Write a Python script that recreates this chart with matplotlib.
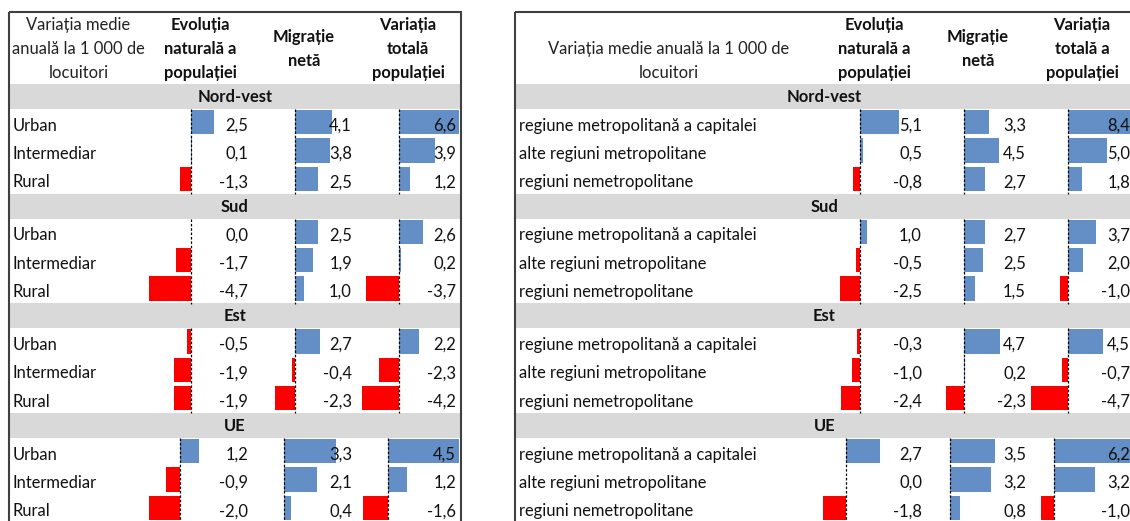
import numpy as np
import matplotlib.pyplot as plt
from matplotlib.patches import Rectangle

plt.rcParams['font.family'] = ['Lato', 'DejaVu Sans']

groups = ['Nord-vest', 'Sud', 'Est', 'UE']
col_titles = [['Evoluția', 'naturală a', 'populației'],
              ['Migrație', 'netă'],
              ['Variația', 'totală', 'populației']]
col_titles_r = [['Evoluția', 'naturală a', 'populației'],
                ['Migrație', 'netă'],
                ['Variația', 'totală a', 'populației']]

# left table: urban / intermediar / rural
rows_l = ['Urban', 'Intermediar', 'Rural']
nat_l = [[2.5, 0.1, -1.3], [0.0, -1.7, -4.7], [-0.5, -1.9, -1.9], [1.2, -0.9, -2.0]]
mig_l = [[4.1, 3.8, 2.5], [2.5, 1.9, 1.0], [2.7, -0.4, -2.3], [3.3, 2.1, 0.4]]
tot_l = [[6.6, 3.9, 1.2], [2.6, 0.2, -3.7], [2.2, -2.3, -4.2], [4.5, 1.2, -1.6]]

# right table: metropolitan typology
rows_r = ['regiune metropolitană a capitalei', 'alte regiuni metropolitane',
          'regiuni nemetropolitane']
nat_r = [[5.1, 0.5, -0.8], [1.0, -0.5, -2.5], [-0.3, -1.0, -2.4], [2.7, 0.0, -1.8]]
mig_r = [[3.3, 4.5, 2.7], [2.7, 2.5, 1.5], [4.7, 0.2, -2.3], [3.5, 3.2, 0.8]]
tot_r = [[8.4, 5.0, 1.8], [3.7, 2.0, -1.0], [4.5, -0.7, -4.7], [6.2, 3.2, -1.0]]

BLUE = '#638ec6'
RED = '#ff0000'
GRAY = '#d9d9d9'
FS = 11.9

fig = plt.figure(figsize=(11.3, 5.21), dpi=100)
ax = fig.add_axes([0, 0, 1, 1])
ax.set_xlim(0, 1130)
ax.set_ylim(521, 0)
ax.axis('off')

top = 12
head_bot = 84
band_h = 25
row_h = 85 / 3
period = 109.7
cell_w = 104
bar_w = 102


def fmt(v):
    return f'{v:.1f}'.replace('.', ',')


def draw_table(x0, x_lab, x1, header_lines, titles, row_names, cols):
    # outer border
    ax.add_patch(Rectangle((x0, top), x1 - x0, 600, fill=False,
                           ec='#404040', lw=1.5, zorder=5))
    col_lefts = [x_lab + i * cell_w for i in range(3)]
    # header
    n = len(header_lines)
    ys = [73 - 24 * (n - 1 - i) for i in range(n)]
    for y, t in zip(ys, header_lines):
        ax.text((x0 + x_lab) / 2, y, t, ha='center', va='center', fontsize=FS,
                color='#222222')
    for cl, lines in zip(col_lefts, titles):
        n = len(lines)
        y0 = 49 - 12 * (n - 1)
        for i, t in enumerate(lines):
            ax.text(cl + cell_w / 2, y0 + 24 * i, t, ha='center', va='center',
                    fontsize=FS, fontweight='bold', color='#111111')
    for g, name in enumerate(groups):
        gy = head_bot + g * period
        ax.add_patch(Rectangle((x0, gy), x1 - x0, band_h, color=GRAY, lw=0, zorder=1))
        ax.text((x0 + x1) / 2, gy + band_h / 2 + 0.5, name, ha='center', va='center',
                fontsize=FS, fontweight='bold', color='#111111', zorder=3)
        ry0 = gy + band_h
        # data bars share one scale per block (regions vs UE)
        block = [c[g] for c in cols] if g == 3 else [v for c in cols for gg in range(3) for v in c[gg]]
        vals = np.array(block, dtype=float).ravel()
        vmin, vmax = min(vals.min(), 0), max(vals.max(), 0)
        scale = bar_w / (vmax - vmin)
        for r, rname in enumerate(row_names):
            yc = ry0 + (r + 0.5) * row_h
            ax.text(x0 + 4, yc + 2.5, rname, ha='left', va='center', fontsize=FS,
                    color='#111111', zorder=3)
        for c, (cl, data) in enumerate(zip(col_lefts, cols)):
            axis_x = cl + 1 + (-vmin) * scale
            v = np.array(data[g])
            yc = ry0 + (np.arange(3) + 0.5) * row_h
            ax.barh(yc - 1, v * scale, left=axis_x, height=row_h - 4,
                    color=[BLUE if x > 0 else RED for x in v], lw=0, zorder=2)
            ax.plot([axis_x, axis_x], [ry0, ry0 + 3 * row_h], color='black', lw=0.9,
                    ls=(0, (2, 1.5)), zorder=3)
            for y, x in zip(yc, v):
                ax.text(cl + cell_w - 4, y + 2.5, fmt(x), ha='right', va='center',
                        fontsize=FS, color='#111111', zorder=4)


draw_table(9, 148, 461, ['Variația medie', 'anuală la 1 000 de', 'locuitori'],
           col_titles, rows_l, [nat_l, mig_l, tot_l])
draw_table(515, 822, 1134, ['Variația medie anuală la 1 000 de', 'locuitori'],
           col_titles_r, rows_r, [nat_r, mig_r, tot_r])

fig.savefig('out.png', dpi=100)
